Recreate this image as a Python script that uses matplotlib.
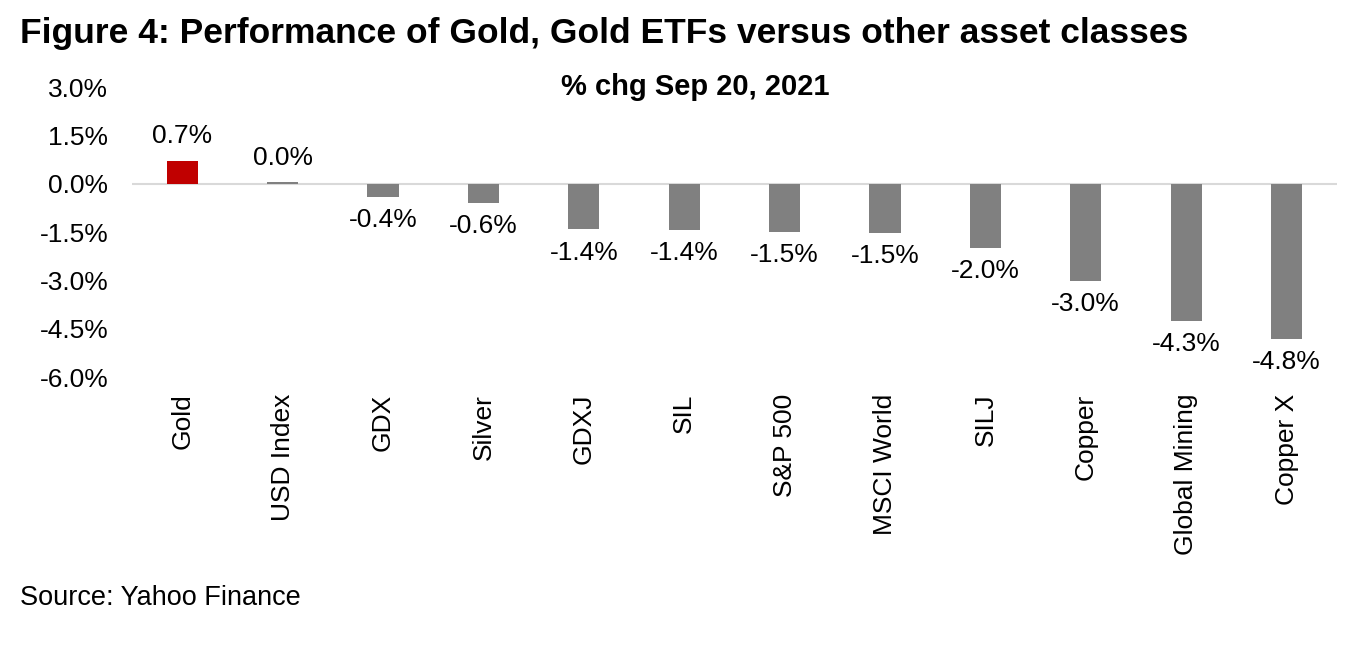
import numpy as np
import matplotlib.pyplot as plt

plt.rcParams['font.family'] = ['Liberation Sans', 'DejaVu Sans']

# data
assets = ['Gold', 'USD Index', 'GDX', 'Silver', 'GDXJ', 'SIL', 'S&P 500',
          'MSCI World', 'SILJ', 'Copper', 'Global Mining', 'Copper X']
pct_chg = [0.71, 0.049, -0.40, -0.60, -1.42, -1.43, -1.50,
           -1.54, -2.00, -3.02, -4.27, -4.83]
yticks = [3.0, 1.5, 0.0, -1.5, -3.0, -4.5, -6.0]

gray = '#808080'
red = '#C00000'
fs = 19

fig = plt.figure(figsize=(13.71, 6.46), dpi=100)
ax = fig.add_axes([0.0963, 0.4164, 0.8787, 0.4489])

x = np.arange(len(assets))
colors = [red if a == 'Gold' else gray for a in assets]
ax.bar(x, pct_chg, width=0.31, color=colors, zorder=2)

ax.axhline(0, color='#d9d9d9', lw=1.5, zorder=1)
ax.set_xlim(-0.5, len(assets) - 0.5)
ax.set_ylim(-6.0, 3.0)

for xi, v in zip(x, pct_chg):
    if v >= 0:
        ax.annotate('%.1f%%' % v, (xi, v), xytext=(0, 9), textcoords='offset points',
                    ha='center', va='bottom', fontsize=fs)
    else:
        ax.annotate('%.1f%%' % v, (xi, v), xytext=(0, -8), textcoords='offset points',
                    ha='center', va='top', fontsize=fs)

ax.set_yticks(yticks)
ax.set_yticklabels(['%.1f%%' % t for t in yticks], fontsize=fs)
ax.set_xticks(x)
ax.set_xticklabels(assets, rotation=90, fontsize=fs, va='top', ha='center')
ax.tick_params(axis='both', length=0)
ax.tick_params(axis='y', pad=17)
ax.tick_params(axis='x', pad=12)

for s in ax.spines.values():
    s.set_visible(False)

fig.text(0.0146, 0.948, 'Figure 4: Performance of Gold, Gold ETFs versus other asset classes',
         fontsize=25.5, fontweight='bold', ha='left', va='center')
fig.text(0.507, 0.865, '% chg Sep 20, 2021', fontsize=21, fontweight='bold',
         ha='center', va='center')
fig.text(0.0146, 0.075, 'Source: Yahoo Finance', fontsize=19.5, ha='left', va='center')

fig.savefig('out.png', dpi=100)
